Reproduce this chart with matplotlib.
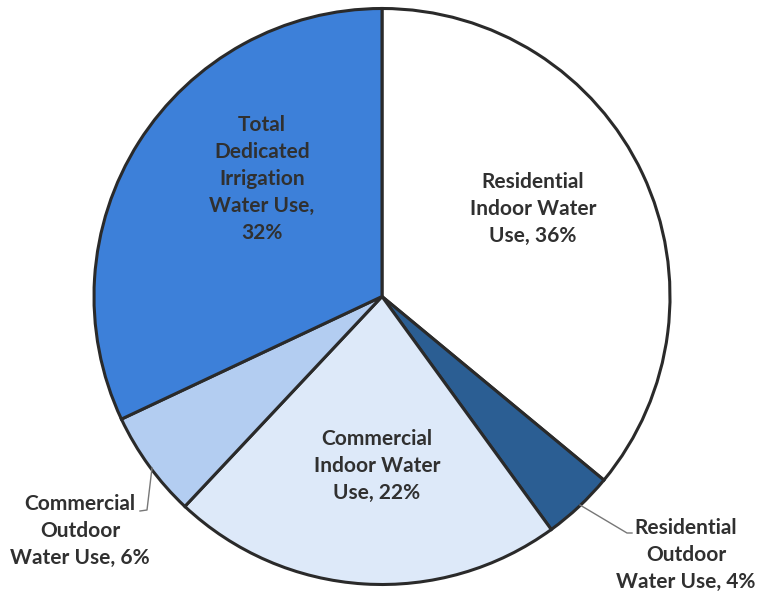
import matplotlib
matplotlib.use("Agg")
import matplotlib.pyplot as plt

labels = ["Residential\nIndoor Water\nUse, 36%", "Residential\nOutdoor\nWater Use, 4%",
          "Commercial\nIndoor Water\nUse, 22%", "Commercial\nOutdoor\nWater Use, 6%",
          "Total\nDedicated\nIrrigation\nWater Use,\n32%"]
values = [36, 4, 22, 6, 32]
colors = ["#ffffff", "#2b5e93", "#dde9f9", "#b3cdf1", "#3d80d9"]

fig = plt.figure(figsize=(7.59, 5.94), dpi=100)
ax = fig.add_axes([0, 0, 1, 1])
cx, cy, r = 382, 297.5, 288
wedges, _ = ax.pie(values, colors=colors, startangle=90, counterclock=False,
                   center=(cx, cy), radius=r,
                   wedgeprops=dict(edgecolor="#2a2a2a", linewidth=2.2))
ax.set_xlim(0, 759)
ax.set_ylim(0, 594)
ax.set_aspect("equal")
ax.axis("off")

tk = dict(fontfamily="Lato", fontweight="bold", fontsize=15, color="#303030",
          ha="center", va="center", linespacing=1.45)
H = 594
ax.text(533, H - 209, labels[0], **tk)
ax.text(686, H - 555, labels[1], **tk)
ax.text(377, H - 466, labels[2], **tk)
ax.text(80, H - 531, labels[3], **tk)
ax.text(262, H - 179, labels[4], **tk)

# leader lines
ax.plot([580, 627, 632], [H - 505, H - 533, H - 533], color="#777777", lw=1)
ax.plot([152, 147, 140], [H - 468, H - 510, H - 511], color="#777777", lw=1)

fig.savefig("out.png", dpi=100)
